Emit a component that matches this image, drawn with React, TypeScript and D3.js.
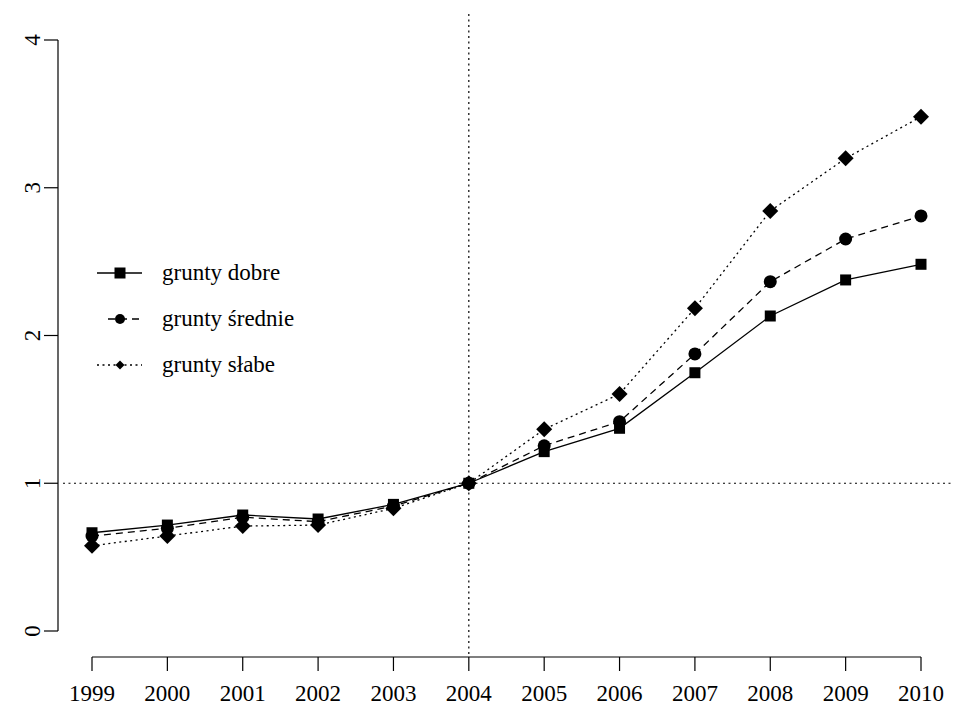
import React, {useEffect, useRef} from 'react';
import * as d3 from 'd3';

const years = [1999, 2000, 2001, 2002, 2003, 2004, 2005, 2006, 2007, 2008, 2009, 2010];
const gruntyDobre = [0.665, 0.717, 0.785, 0.758, 0.857, 1.0, 1.214, 1.372, 1.748, 2.132, 2.376, 2.482];
const gruntySrednie = [0.643, 0.695, 0.77, 0.74, 0.846, 1.0, 1.254, 1.417, 1.875, 2.364, 2.653, 2.809];
const gruntySlabe = [0.577, 0.643, 0.71, 0.717, 0.83, 1.0, 1.365, 1.604, 2.184, 2.843, 3.199, 3.481];
const yTicks = [0, 1, 2, 3, 4];
const seriesNames = ['grunty dobre', 'grunty średnie', 'grunty słabe'];

const FONT = "'Liberation Serif', 'Times New Roman', Times, serif";

export default function App() {
  const ref = useRef<SVGSVGElement>(null);

  useEffect(() => {
    const svg = d3.select(ref.current);
    svg.selectAll('*').remove();

    const width = 973, height = 708;
    const plot = {left: 63, right: 952, top: 14, bottom: 657};

    const x = d3.scaleLinear().domain([1999, 2010]).range([92, 921]);
    const y = d3.scaleLinear().domain([0, 4]).range([631, 40]);

    svg.append('rect').attr('width', width).attr('height', height).attr('fill', '#fff');

    // reference lines
    svg.append('line')
      .attr('x1', plot.left).attr('x2', plot.right)
      .attr('y1', y(1)).attr('y2', y(1))
      .attr('stroke', '#000').attr('stroke-width', 1.2)
      .attr('stroke-dasharray', '2,3.5');
    svg.append('line')
      .attr('x1', x(2004)).attr('x2', x(2004))
      .attr('y1', plot.top).attr('y2', plot.bottom)
      .attr('stroke', '#000').attr('stroke-width', 1.2)
      .attr('stroke-dasharray', '2,3.5');

    // y axis (R style)
    const yAxis = svg.append('g').attr('transform', 'translate(58,0)');
    yAxis.append('line')
      .attr('x1', 0).attr('x2', 0)
      .attr('y1', y(0)).attr('y2', y(4))
      .attr('stroke', '#000').attr('stroke-width', 1.2);
    yAxis.selectAll('.yt').data(yTicks).enter().append('line')
      .attr('x1', -14).attr('x2', 0)
      .attr('y1', d => y(d)).attr('y2', d => y(d))
      .attr('stroke', '#000').attr('stroke-width', 1.2);
    yAxis.selectAll('.yl').data(yTicks).enter().append('text')
      .attr('transform', d => `translate(-18,${y(d)}) rotate(-90)`)
      .attr('text-anchor', 'middle')
      .style('font-family', FONT).style('font-size', '23px')
      .text(d => d);

    // x axis
    const xAxis = svg.append('g').attr('transform', 'translate(0,657)');
    xAxis.append('line')
      .attr('x1', x(1999)).attr('x2', x(2010))
      .attr('y1', 0).attr('y2', 0)
      .attr('stroke', '#000').attr('stroke-width', 1.2);
    xAxis.selectAll('.xt').data(years).enter().append('line')
      .attr('x1', d => x(d)).attr('x2', d => x(d))
      .attr('y1', 0).attr('y2', 14)
      .attr('stroke', '#000').attr('stroke-width', 1.2);
    xAxis.selectAll('.xl').data(years).enter().append('text')
      .attr('x', d => x(d)).attr('y', 44)
      .attr('text-anchor', 'middle')
      .style('font-family', FONT).style('font-size', '23px')
      .text(d => d);

    const series = [
      {values: gruntyDobre, dash: null, shape: 'square'},
      {values: gruntySrednie, dash: '7,5', shape: 'circle'},
      {values: gruntySlabe, dash: '2,3.5', shape: 'diamond'},
    ];

    const drawMarker = (g: any, shape: string, cx: number, cy: number, s: number) => {
      if (shape === 'square') {
        g.append('rect').attr('x', cx - s / 2).attr('y', cy - s / 2)
          .attr('width', s).attr('height', s).attr('fill', '#000');
      } else if (shape === 'circle') {
        g.append('circle').attr('cx', cx).attr('cy', cy).attr('r', s / 2).attr('fill', '#000');
      } else {
        const h = s / 2;
        g.append('path')
          .attr('d', `M${cx},${cy - h}L${cx + h},${cy}L${cx},${cy + h}L${cx - h},${cy}Z`)
          .attr('fill', '#000');
      }
    };

    const line = d3.line<number>()
      .x((d, i) => x(years[i]))
      .y(d => y(d));

    const markerSize: { [k: string]: number } = {square: 11, circle: 13, diamond: 16};

    series.forEach(s => {
      const p = svg.append('path')
        .attr('d', line(s.values))
        .attr('fill', 'none')
        .attr('stroke', '#000')
        .attr('stroke-width', 1.3);
      if (s.dash) p.attr('stroke-dasharray', s.dash);
      const g = svg.append('g');
      s.values.forEach((v, i) => drawMarker(g, s.shape, x(years[i]), y(v), markerSize[s.shape]));
    });

    // legend
    const legendRows = [273, 319, 365];
    const legendSize: { [k: string]: number } = {square: 11, circle: 10, diamond: 9};
    series.forEach((s, i) => {
      const ly = legendRows[i];
      const l = svg.append('line')
        .attr('x1', s.shape === 'circle' ? 108 : 97).attr('x2', 142)
        .attr('y1', ly).attr('y2', ly)
        .attr('stroke', '#000').attr('stroke-width', 1.3);
      if (s.dash) l.attr('stroke-dasharray', s.dash);
      drawMarker(svg, s.shape, 120, ly, legendSize[s.shape]);
      svg.append('text')
        .attr('x', 162).attr('y', ly + 7)
        .style('font-family', FONT).style('font-size', '23px')
        .text(seriesNames[i]);
    });
  }, []);

  return (
    <div style={{position: 'absolute', left: 0, top: 0}}>
      <svg ref={ref} width={973} height={708}></svg>
    </div>
  );
}
